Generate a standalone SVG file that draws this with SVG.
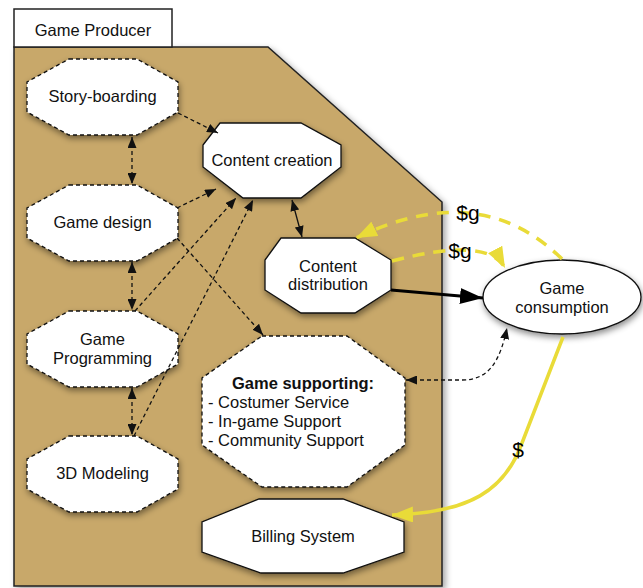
<svg xmlns="http://www.w3.org/2000/svg" width="643" height="588" viewBox="0 0 643 588">
  <defs>
    <filter id="sh" x="-20%" y="-20%" width="140%" height="150%">
      <feDropShadow dx="1" dy="3" stdDeviation="3" flood-color="#000" flood-opacity="0.45"/>
    </filter>
    <filter id="shc" x="-10%" y="-10%" width="125%" height="120%">
      <feDropShadow dx="3" dy="3" stdDeviation="3" flood-color="#000" flood-opacity="0.35"/>
    </filter>
    <marker id="ab" markerUnits="userSpaceOnUse" markerWidth="11" markerHeight="9" viewBox="0 0 11 9" refX="11" refY="4.5" orient="auto-start-reverse">
      <path d="M0,0 L11,4.5 L0,9 Z" fill="#111"/>
    </marker>
    <marker id="abig" markerUnits="userSpaceOnUse" markerWidth="23" markerHeight="16" viewBox="0 0 23 16" refX="23" refY="8" orient="auto">
      <path d="M0,0 L23,8 L0,16 Z" fill="#000"/>
    </marker>
    <marker id="ay" markerUnits="userSpaceOnUse" markerWidth="21" markerHeight="16" viewBox="0 0 21 16" refX="21" refY="8" orient="auto">
      <path d="M0,0 L21,8 L0,16 Z" fill="#E9DB38"/>
    </marker>
    <style>
      .lbl { font-family: "Liberation Sans", Arial, Helvetica, sans-serif; font-size: 16.5px; fill: #111; text-anchor: middle; }
      .lft { text-anchor: start; }
      .bold { font-weight: bold; }
      .money { font-family: "Liberation Sans", Arial, Helvetica, sans-serif; font-size: 21px; fill: #000; text-anchor: middle; }
      .dnode { fill: #fff; stroke: #111; stroke-width: 1.3; stroke-dasharray: 4 3; }
      .snode { fill: #fff; stroke: #111; stroke-width: 1.3; }
      .dash { fill: none; stroke: #111; stroke-width: 1.3; stroke-dasharray: 4 3; }
      .solid { fill: none; stroke: #111; stroke-width: 1.3; }
      .thick { fill: none; stroke: #000; stroke-width: 3; }
      .ydash { fill: none; stroke: #E9DB38; stroke-width: 3.5; stroke-dasharray: 12 9; }
      .ysolid { fill: none; stroke: #E9DB38; stroke-width: 3.5; }
    </style>
  </defs>

  <g id="game-producer">
    <path d="M14,47 L268,47 L442,202 L442,586 L14,586 Z" fill="#C8A86B" stroke="#222" stroke-width="1.5" filter="url(#shc)"/>
    <rect x="14" y="9" width="158" height="38" fill="#fff" stroke="#222" stroke-width="1.5"/>
    <text class="lbl" x="93" y="35.5">Game Producer</text>
  </g>

  <g id="story-boarding">
    <polygon class="dnode" filter="url(#sh)" points="69,59 137,59 178,82 178,112 137,135 69,135 27,112 27,82"/>
    <text class="lbl" x="102.5" y="102">Story-boarding</text>
  </g>

  <g id="game-design">
    <polygon class="dnode" filter="url(#sh)" points="69,185 137,185 178,208 178,238 137,261 69,261 27,238 27,208"/>
    <text class="lbl" x="102.5" y="228">Game design</text>
  </g>

  <g id="game-programming">
    <polygon class="dnode" filter="url(#sh)" points="69,311 137,311 178,334 178,364 137,387 69,387 27,364 27,334"/>
    <text class="lbl" x="102.5" y="345">Game</text>
    <text class="lbl" x="102.5" y="364">Programming</text>
  </g>

  <g id="modeling-3d">
    <polygon class="dnode" filter="url(#sh)" points="69,436 137,436 178,459 178,489 137,512 69,512 27,489 27,459"/>
    <text class="lbl" x="102.5" y="479">3D Modeling</text>
  </g>

  <g id="content-creation">
    <polygon class="snode" filter="url(#sh)" points="220,123 301,123 341,145 341,167 301,198 243,198 203,167 203,145"/>
    <text class="lbl" x="272" y="165.5">Content creation</text>
  </g>

  <g id="content-distribution">
    <polygon class="snode" filter="url(#sh)" points="281,238 355,238 391,260 391,290 355,313 301,313 265,290 265,260"/>
    <text class="lbl" x="328" y="271.5">Content</text>
    <text class="lbl" x="328" y="290">distribution</text>
  </g>

  <g id="game-supporting">
    <polygon class="dnode" filter="url(#sh)" points="262,336 347,336 405,378 405,445 347,487 262,487 202,445 202,378"/>
    <text class="lbl bold" x="303" y="388.5">Game supporting:</text>
    <text class="lbl lft" x="208" y="408">- Costumer Service</text>
    <text class="lbl lft" x="208" y="427">- In-game Support</text>
    <text class="lbl lft" x="208" y="446">- Community Support</text>
  </g>

  <g id="billing-system">
    <polygon class="snode" filter="url(#sh)" points="259,499 343,499 404,522 404,552 343,573 261,573 202,552 202,522"/>
    <text class="lbl" x="303" y="542">Billing System</text>
  </g>

  <g id="game-consumption">
    <ellipse cx="562" cy="297" rx="79" ry="37" fill="#fff" stroke="#111" stroke-width="1.3" filter="url(#sh)"/>
    <text class="lbl" x="562" y="294">Game</text>
    <text class="lbl" x="562" y="312.5">consumption</text>
  </g>

  <g id="connectors">
    <path class="dash" d="M178,113 L218,133" marker-end="url(#ab)"/>
    <path class="dash" d="M132,137 L132,184" marker-start="url(#ab)" marker-end="url(#ab)"/>
    <path class="dash" d="M177,208 L216,189" marker-end="url(#ab)"/>
    <path class="dash" d="M177,238 L263,335" marker-end="url(#ab)"/>
    <path class="dash" d="M132,262 L132,310" marker-start="url(#ab)" marker-end="url(#ab)"/>
    <path class="dash" d="M135,311 L236,198" marker-end="url(#ab)"/>
    <path class="dash" d="M132,388 L132,435" marker-start="url(#ab)" marker-end="url(#ab)"/>
    <path class="dash" d="M134,436 L253,200" marker-end="url(#ab)"/>
    <path class="solid" d="M292,200 L302,237" marker-start="url(#ab)" marker-end="url(#ab)"/>
    <path class="dash" d="M406,380 L462,380 C490,380 500,360 507,328" marker-start="url(#ab)" marker-end="url(#ab)"/>
    <path class="thick" d="M391,290 L483,298" marker-end="url(#abig)"/>
    <path class="ydash" d="M562,259 Q480,178 356,238" marker-end="url(#ay)"/>
    <path class="ydash" d="M392,261 Q488,236 505,268" marker-end="url(#ay)"/>
    <path class="ysolid" d="M563,337 L522,443 C505,490 470,513 392,515" marker-end="url(#ay)"/>
    <text class="money" x="468" y="220">$g</text>
    <text class="money" x="460" y="258">$g</text>
    <text class="money" x="518" y="457">$</text>
  </g>
</svg>
